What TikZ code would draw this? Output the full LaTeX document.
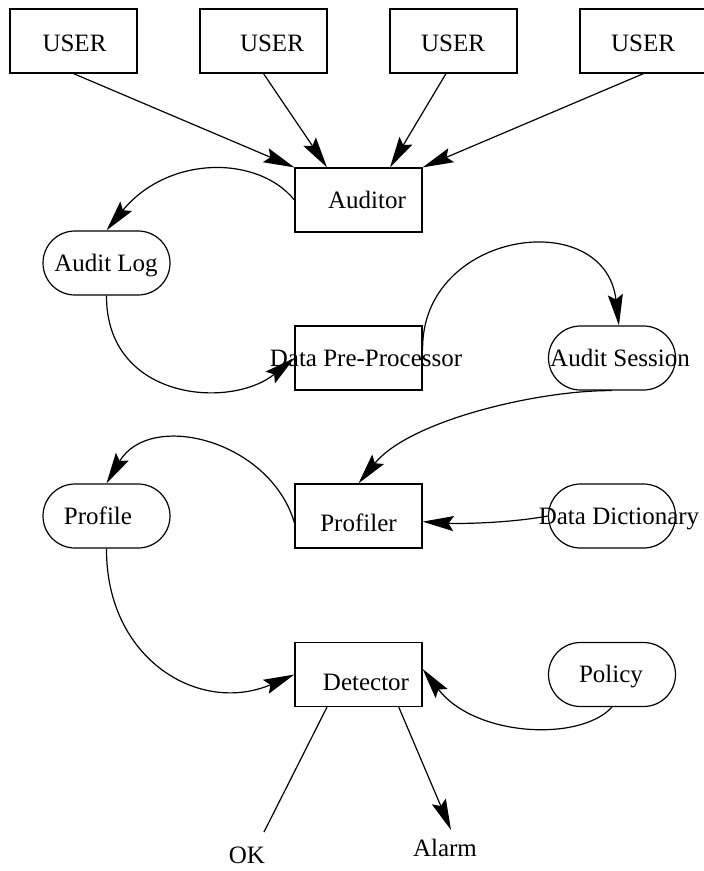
\documentclass[tikz,border=0pt]{standalone}
\usepackage{fontspec}
\setmainfont{Liberation Serif}
\usetikzlibrary{arrows.meta}
\begin{document}
\begin{tikzpicture}[x=1pt, y=-1pt, line width=1.2pt,
  proc/.style={draw, rectangle, minimum width=127pt, minimum height=64pt, inner sep=0pt},
  store/.style={proc, rounded corners=32pt},
  lbl/.style={anchor=base, inner sep=0pt, font=\fontsize{25}{30}\selectfont},
  flow/.style={-{Stealth[length=31pt, width=15pt, inset=5pt]}},
]
\useasboundingbox (0,0) rectangle (704,871);

% processes and data stores
\node[proc]  (u1)   at (73.5,41)   {};
\node[proc]  (u2)   at (263.5,41)  {};
\node[proc]  (u3)   at (453.5,41)  {};
\node[proc]  (u4)   at (643.5,41)  {};
\node[proc]  (aud)  at (358.5,200) {};
\node[store] (alog) at (106.5,263) {};
\node[proc]  (dpp)  at (358.5,358) {};
\node[store] (ases) at (612,358)   {};
\node[store] (prof) at (106.5,516) {};
\node[proc]  (prf)  at (358.5,516) {};
\node[store] (dd)   at (612,516)   {};
\node[proc]  (det)  at (358.5,674.5) {};
\node[store] (pol)  at (612,674.5) {};

% texts
\node[lbl] (u1t)   at (74.5,51)  {USER};
\node[lbl] (u2t)   at (272,51)   {USER};
\node[lbl] (u3t)   at (453,51)   {USER};
\node[lbl] (u4t)   at (643,51)   {USER};
\node[lbl] (audt)  at (367,208)  {Auditor};
\node[lbl] (alogt) at (106,271)  {Audit Log};
\node[lbl] (dppt)  at (366,366)  {Data Pre-Processor};
\node[lbl] (asest) at (620,366)  {Audit Session};
\node[lbl] (proft) at (98,524)   {Profile};
\node[lbl] (prft)  at (358.5,531) {Profiler};
\node[lbl] (ddt)   at (619,524)  {Data Dictionary};
\node[lbl] (dett)  at (366,690)  {Detector};
\node[lbl] (polt)  at (611,682)  {Policy};
\node[lbl] (ok)    at (247,863)  {OK};
\node[lbl] (alarm) at (445,856)  {Alarm};

\coordinate (okend)    at (264,832);
\coordinate (alarmend) at (451,830);

% users feeding the auditor
\draw[flow] (u1.south) -- (aud.north west);
\draw[flow] (u2.south) -- (aud.134);
\draw[flow] (u3.257)   -- (aud.46);
\draw[flow] (u4.south) -- (aud.north east);

% data flow
\draw[flow] (aud.west) .. controls (258,155) and (168,155) .. (alog.north);
\draw[flow] (alog.south) .. controls (106,400) and (230,410) .. (dpp.west);
\draw[flow] (dpp.7) .. controls (421,230) and (605,205) .. (ases.78);
\draw[flow] (ases.south) .. controls (540,390) and (410,420) .. (prf.north);
\draw[flow] (prf.186) .. controls (270,440) and (150,410) .. (prof.north);
\draw[flow] (dd.west) .. controls (510,523) and (460,524) .. (prf.-5);
\draw[flow] (prof.south) .. controls (106,660) and (200,715) .. (det.west);
\draw[flow] (pol.south) .. controls (580,742) and (475,737) .. (det.5);

% detector outcomes
\draw (det.226) -- (okend);
\draw[flow] (det.-39) -- (alarmend);
\end{tikzpicture}
\end{document}
